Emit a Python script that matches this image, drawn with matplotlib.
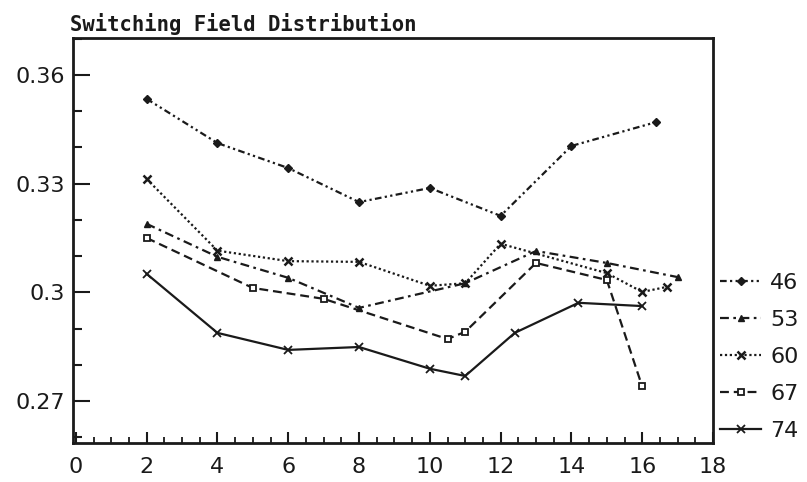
import matplotlib
matplotlib.use("Agg")
import matplotlib.pyplot as plt
from matplotlib.ticker import MultipleLocator

title = "Switching Field Distribution"
labels = ["46", "53", "60", "67", "74"]

x46 = [2, 4, 6, 8, 10, 12, 14, 16.4]
y46 = [0.3534, 0.3412, 0.3343, 0.3249, 0.3288, 0.3211, 0.3404, 0.3470]

x53 = [2, 4, 6, 8, 11, 13, 15, 17]
y53 = [0.3189, 0.3098, 0.3040, 0.2957, 0.3025, 0.3114, 0.3081, 0.3042]

x60 = [2, 4, 6, 8, 10, 11, 12, 15, 16, 16.7]
y60 = [0.3313, 0.3115, 0.3086, 0.3084, 0.3018, 0.3025, 0.3134, 0.3053, 0.3001, 0.3015]

x67 = [2, 5, 7, 10.5, 11, 13, 15, 16]
y67 = [0.3150, 0.3012, 0.2982, 0.2871, 0.2891, 0.3081, 0.3034, 0.2740]

x74 = [2, 4, 6, 8, 10, 11, 12.4, 14.2, 16]
y74 = [0.3051, 0.2888, 0.2841, 0.2849, 0.2789, 0.2769, 0.2888, 0.2971, 0.2962]

xticks = [0, 2, 4, 6, 8, 10, 12, 14, 16, 18]
yticks = [0.27, 0.30, 0.33, 0.36]
yticklabels = ["0.27", "0.3", "0.33", "0.36"]

fig = plt.figure(figsize=(8.07, 4.82), dpi=100)
ax = fig.add_axes([73 / 807, 1 - 443 / 482, 640 / 807, 405 / 482])

ink = "#1a1a1a"
series = [
    (x46, y46, dict(linestyle=(0, (3, 1.5, 1, 1.5, 1, 1.5)), marker="D", markersize=4)),
    (x53, y53, dict(linestyle=(0, (4, 2, 1.2, 2)), marker="^", markersize=5)),
    (x60, y60, dict(linestyle=(0, (1, 1.2)), marker="x", markersize=6, markeredgewidth=1.8)),
    (x67, y67, dict(linestyle=(0, (4, 2.2)), marker="s", markersize=5,
                    markerfacecolor="white", markeredgewidth=1.3)),
    (x74, y74, dict(linestyle="-", marker="x", markersize=6, markeredgewidth=1.3)),
]
for (xs, ys, st), lab in zip(series, labels):
    ax.plot(xs, ys, color=ink, linewidth=1.6, label=lab, **st)

ax.set_xlim(-0.08, 18.0)
ax.set_ylim(0.2584, 0.3702)

ax.set_xticks(xticks)
ax.xaxis.set_minor_locator(MultipleLocator(0.5))
ax.set_yticks(yticks)
ax.set_yticklabels(yticklabels)
ax.yaxis.set_minor_locator(MultipleLocator(0.01))

ax.tick_params(axis="y", which="major", direction="in", length=12, width=1.5,
               labelsize=16, pad=6, colors=ink)
ax.tick_params(axis="y", which="minor", direction="in", length=6.5, width=1.5, colors=ink)
ax.tick_params(axis="x", which="major", direction="in", length=8, width=1.5,
               labelsize=16, pad=10, colors=ink)
ax.tick_params(axis="x", which="minor", direction="in", length=4, width=1.3, colors=ink)
for sp in ax.spines.values():
    sp.set_linewidth(2.0)
    sp.set_color(ink)

fig.text(70 / 807, 1 - 31 / 482, title, family="DejaVu Sans Mono", fontsize=14.8,
         fontweight="bold", color=ink, ha="left", va="baseline")

leg = ax.legend(loc="upper left", bbox_to_anchor=(720 / 807, 1 - 273 / 482),
                bbox_transform=fig.transFigure, frameon=False, fontsize=16,
                handlelength=1.85, handletextpad=0.4, labelspacing=0.76,
                borderpad=0, borderaxespad=0, labelcolor=ink)

fig.savefig("out.png", dpi=100, facecolor="white")
